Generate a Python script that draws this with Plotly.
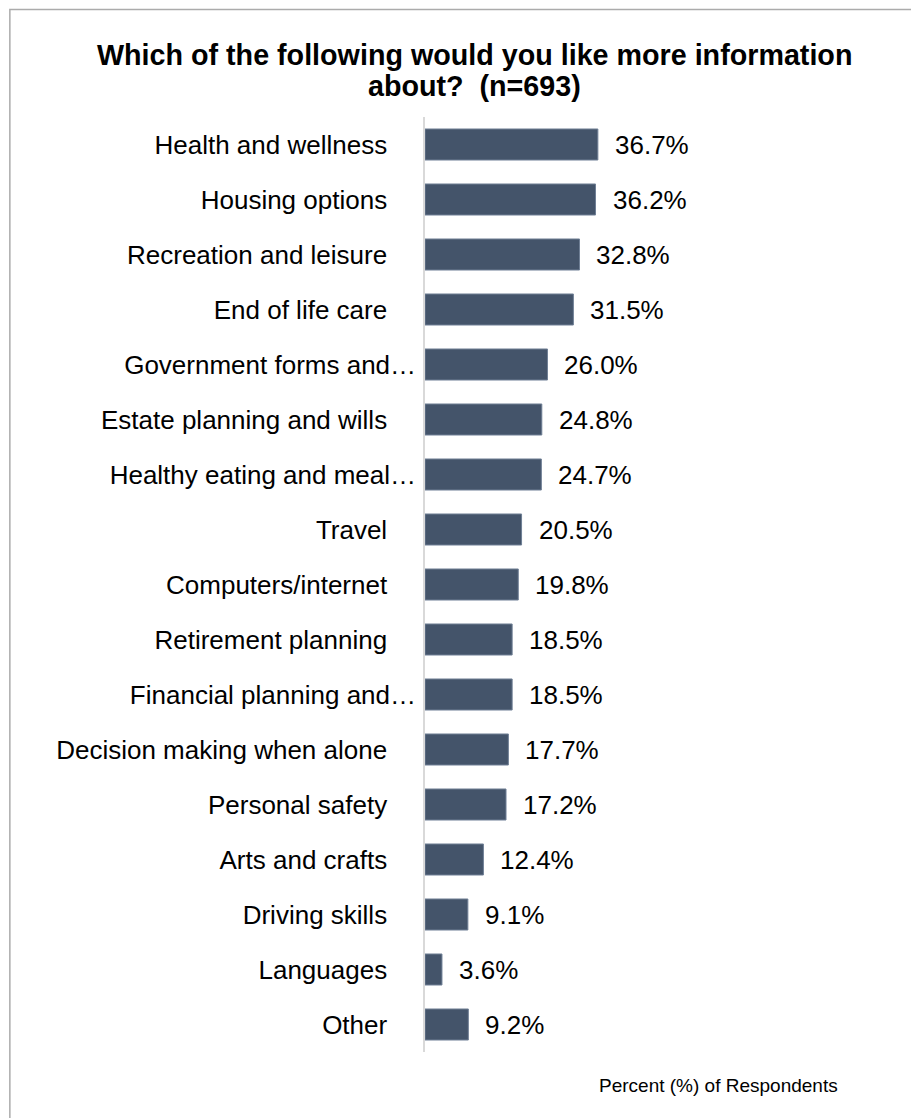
import plotly.graph_objects as go

# Survey topics (top to bottom) and share of respondents (%)
categories = [
    "Health and wellness",
    "Housing options",
    "Recreation and leisure",
    "End of life care",
    "Government forms and…",
    "Estate planning and wills",
    "Healthy eating and meal…",
    "Travel",
    "Computers/internet",
    "Retirement planning",
    "Financial planning and…",
    "Decision making when alone",
    "Personal safety",
    "Arts and crafts",
    "Driving skills",
    "Languages",
    "Other",
]
values = [36.7, 36.2, 32.8, 31.5, 26.0, 24.8, 24.7, 20.5, 19.8, 18.5, 18.5,
          17.7, 17.2, 12.4, 9.1, 3.6, 9.2]

title_lines = ["Which of the following would you like more information",
               "about?  (n=693)"]
axis_note = "Percent (%) of Respondents"

W, H = 911, 1118
M_L, M_T, M_B = 425, 117, 66
X_MAX = 100
PLOT_W = 471.4
M_R = W - M_L - PLOT_W
PLOT_H = H - M_T - M_B

FONT = "Liberation Sans, Arial, sans-serif"
BAR = "#44546a"

def px_x(p):
    return (p - M_L) / PLOT_W

def px_y(p):
    return (H - M_B - p) / PLOT_H

# labels cut short by the renderer sit flush with the axis; the rest keep a gap
pad = "\u00a0" * 4
tick_text = [c if c.endswith("…") else c + pad for c in categories]

fig = go.Figure(go.Bar(
    x=values,
    y=categories,
    orientation="h",
    marker=dict(color=BAR, line=dict(color="#6f7f95", width=1)),
    hoverinfo="skip",
))

annotations = []
for c, v in zip(categories, values):
    annotations.append(dict(
        x=v, y=c, xref="x", yref="y", text=f"{v:.1f}%",
        showarrow=False, xanchor="left", yanchor="middle", xshift=15,
        font=dict(family=FONT, size=26, color="#000000"),
    ))

annotations.append(dict(
    x=px_x(475), y=px_y(73), xref="paper", yref="paper", text=f"<b>{title_lines[0]}</b>",
    showarrow=False, xanchor="center", yanchor="bottom",
    font=dict(family=FONT, size=28.7, color="#000000"),
))
annotations.append(dict(
    x=px_x(475), y=px_y(104), xref="paper", yref="paper", text=f"<b>{title_lines[1]}</b>",
    showarrow=False, xanchor="center", yanchor="bottom",
    font=dict(family=FONT, size=28.7, color="#000000"),
))
annotations.append(dict(
    x=px_x(840), y=px_y(1098), xref="paper", yref="paper", text=axis_note,
    showarrow=False, xanchor="right", yanchor="bottom",
    font=dict(family=FONT, size=19, color="#000000"),
))

fig.update_layout(
    width=W, height=H,
    margin=dict(l=M_L, r=M_R, t=M_T, b=M_B, pad=0),
    paper_bgcolor="#ffffff", plot_bgcolor="#ffffff",
    bargap=0.436,
    showlegend=False,
    font=dict(family=FONT, size=26, color="#000000"),
    xaxis=dict(range=[0, X_MAX], showgrid=False, zeroline=False,
               showticklabels=False, showline=False, ticks="", fixedrange=True),
    yaxis=dict(
        categoryorder="array", categoryarray=categories,
        autorange="reversed",
        tickmode="array", tickvals=categories, ticktext=tick_text,
        showgrid=False, zeroline=False,
        showline=True, linecolor="#d9d9d9", linewidth=1.5,
        ticks="", ticklabelstandoff=2,
        tickfont=dict(family=FONT, size=26, color="#000000"),
    ),
    annotations=annotations,
    shapes=[dict(
        type="rect", xref="paper", yref="paper",
        x0=px_x(9.5), x1=px_x(2000), y0=px_y(2000), y1=px_y(9.5),
        line=dict(color="#ababab", width=1.5), fillcolor="rgba(0,0,0,0)",
        layer="below",
    )],
)

fig.write_html("out.html")
